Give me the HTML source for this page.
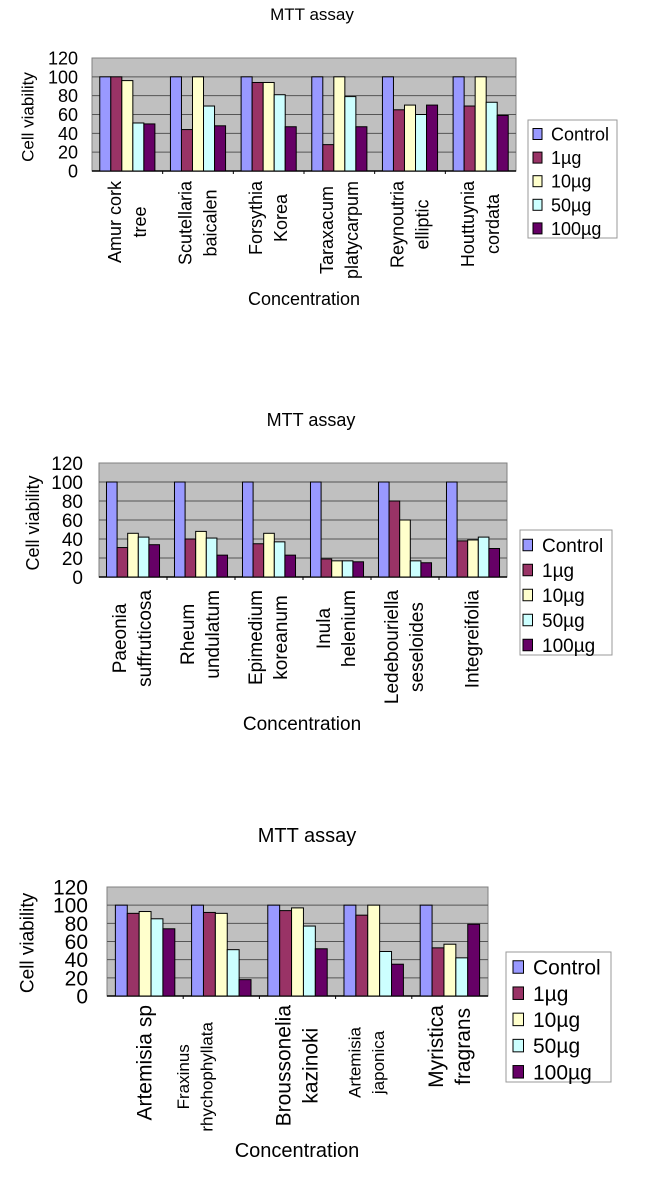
<!DOCTYPE html>
<html><head><meta charset="utf-8"><style>
html,body{margin:0;padding:0;background:#fff;}
svg{display:block;font-family:"Liberation Sans",sans-serif;}
</style></head><body>
<svg id="root" width="650" height="1184" viewBox="0 0 650 1184"></svg>
<script>
// ---------- data ----------
const seriesNames = ["Control","1\u00b5g","10\u00b5g","50\u00b5g","100\u00b5g"];
const yTicks = [0,20,40,60,80,100,120];

const chart1Categories = [["Amur cork","tree"],["Scutellaria","baicalen"],["Forsythia","Korea"],["Taraxacum","platycarpum"],["Reynoutria","elliptic"],["Houttuynia","cordata"]];
const chart1Control = [100,100,100,100,100,100];
const chart1Dose1 = [100,44,94,28,65,69];
const chart1Dose10 = [96,100,94,100,70,100];
const chart1Dose50 = [51,69,81,79,60,73];
const chart1Dose100 = [50,48,47,47,70,59];

const chart2Categories = [["Paeonia","suffruticosa"],["Rheum","undulatum"],["Epimedium","koreanum"],["Inula","helenium"],["Ledebouriella","seseloides"],["Integreifolia"]];
const chart2Control = [100,100,100,100,100,100];
const chart2Dose1 = [31,40,35,19,80,38];
const chart2Dose10 = [46,48,46,17,60,39];
const chart2Dose50 = [42,41,37,17,17,42];
const chart2Dose100 = [34,23,23,16,15,30];

const chart3Categories = [["Artemisia sp"],["Fraxinus","rhychophyllata"],["Broussonelia","kazinoki"],["Artemisia","japonica"],["Myristica","fragrans"]];
const chart3Control = [100,100,100,100,100];
const chart3Dose1 = [91,92,94,89,53];
const chart3Dose10 = [93,91,97,100,57];
const chart3Dose50 = [85,51,77,49,42];
const chart3Dose100 = [74,18,52,35,79];

// ---------- layout ----------
const colors = ["#9999ff","#993366","#ffffcc","#ccffff","#660066"];
const NS = "http://www.w3.org/2000/svg";
const root = document.getElementById('root');
function mk(tag, attrs, parent){const e=document.createElementNS(NS,tag);for(const k in attrs)e.setAttribute(k,attrs[k]);(parent||root).appendChild(e);return e;}

const charts = [
 {id:1, cats:chart1Categories, series:[chart1Control,chart1Dose1,chart1Dose10,chart1Dose50,chart1Dose100],
  x0:92,x1:516,y0:58,y1:171, titleX:312,titleY:20,titleFs:17, tickX:78,tickFs:18,
  yTitleX:28,yTitleY:117,yTitleFs:17, catTop:181,catFs:[18,18,18,18,18,18],catTopAdj:[0,0,0,0,0,0],catDx:[0,0,0,0,0,0],lineGap:25,
  concX:304,concY:305,concFs:18, leg:{x:528,y:120,w:89,h:118,sw:533,tx:551,ty:134,dy:23.6,fs:18}},
 {id:2, cats:chart2Categories, series:[chart2Control,chart2Dose1,chart2Dose10,chart2Dose50,chart2Dose100],
  x0:99,x1:507,y0:463,y1:577, titleX:311,titleY:426,titleFs:18, tickX:83,tickFs:19,
  yTitleX:33,yTitleY:523,yTitleFs:18, catTop:590,catFs:[19,19,19,19,19,19],catTopAdj:[0,0,0,0,0,0],catDx:[0,0,0,0,0,0],lineGap:25,
  concX:302,concY:730,concFs:19, leg:{x:520,y:530,w:92,h:125,sw:523,tx:542,ty:545,dy:25,fs:19}},
 {id:3, cats:chart3Categories, series:[chart3Control,chart3Dose1,chart3Dose10,chart3Dose50,chart3Dose100],
  x0:107,x1:488,y0:887,y1:996, titleX:307,titleY:842,titleFs:20, tickX:88,tickFs:21,
  yTitleX:28,yTitleY:943,yTitleFs:19, catTop:1005,catFs:[21,17,21,17,21],catTopAdj:[0,17,0,22,0],catDx:[0,-26,0,-7,0],lineGap:27,
  concX:297,concY:1157,concFs:20, leg:{x:506,y:952,w:105,h:130,sw:513,tx:533,ty:967,dy:26.2,fs:21}}
];

charts.forEach(c=>{
  const g = mk('g',{});
  
  
  const yMax = yTicks[yTicks.length-1];
  const yS = v => c.y1 - (v/yMax)*(c.y1-c.y0);
  const n = c.cats.length;
  const gw = (c.x1-c.x0)/n;
  const bw = gw*0.78/5;
  const xG = i => c.x0 + i*gw;

  const t = mk('text',{x:c.titleX,y:c.titleY,'text-anchor':'middle','font-size':c.titleFs,fill:'#000'},g);
  t.textContent='MTT assay';
  
  

  const plot = mk('rect',{x:c.x0,y:c.y0,width:c.x1-c.x0,height:c.y1-c.y0,fill:'#c0c0c0',stroke:'#808080','stroke-width':1},g);
  
  

  yTicks.forEach(v=>{
    const y = yS(v);
    if(v>0 && v<yMax){
      const l = mk('line',{x1:c.x0,x2:c.x1,y1:y,y2:y,stroke:'#555','stroke-width':1},g);
      
      
    }
    const tl = mk('text',{x:c.tickX,y:y+c.tickFs*0.36,'text-anchor':'end','font-size':c.tickFs,fill:'#000'},g);
    tl.textContent = v;
    
    
  });
  mk('line',{x1:c.x0,x2:c.x1,y1:c.y1,y2:c.y1,stroke:'#000','stroke-width':1.5},g);
  for(let i=1;i<n;i++){ mk('line',{x1:xG(i),x2:xG(i),y1:c.y1,y2:c.y1+3,stroke:'#000'},g); }

  c.series.forEach((arr,s)=>{
    arr.forEach((v,i)=>{
      const x = xG(i) + (gw-5*bw)/2 + s*bw;
      const r = mk('rect',{x:x,y:yS(v),width:bw,height:c.y1-yS(v),fill:colors[s],stroke:'#000','stroke-width':1},g);
      
      
    });
  });

  const yt = mk('text',{x:c.yTitleX,y:c.yTitleY,'text-anchor':'middle','font-size':c.yTitleFs,transform:`rotate(-90 ${c.yTitleX} ${c.yTitleY})`,'dominant-baseline':'central'},g);
  yt.textContent='Cell viability';
  
  

  c.cats.forEach((lines,i)=>{
    const cx = xG(i)+gw/2 + c.catDx[i];
    const fs = c.catFs[i];
    const gap = fs<18 ? fs*1.4 : c.lineGap;
    const top = c.catTop + c.catTopAdj[i];
    const lg = mk('g',{},g);
    
    
    const texts = lines.map((ln,k)=>{
      const xx = cx - (lines.length-1)*gap/2 + k*gap;
      const te = mk('text',{'font-size':fs,'dominant-baseline':'central','text-anchor':'middle'},lg);
      te.textContent = ln;
      te._x = xx;
      return te;
    });
    const maxLen = Math.max(...texts.map(te=>te.getComputedTextLength()));
    texts.forEach(te=>{
      const yy = top + maxLen/2;
      te.setAttribute('x',te._x);te.setAttribute('y',yy);
      te.setAttribute('transform',`rotate(-90 ${te._x} ${yy})`);
    });
  });

  const ct = mk('text',{x:c.concX,y:c.concY,'text-anchor':'middle','font-size':c.concFs},g);
  ct.textContent='Concentration';
  
  

  const L = c.leg;
  const lgd = mk('g',{},g);
  
  
  mk('rect',{x:L.x,y:L.y,width:L.w,height:L.h,fill:'#fff',stroke:'#999','stroke-width':1},lgd);
  seriesNames.forEach((nm,s)=>{
    const yy = L.ty + s*L.dy;
    const ent = mk('g',{},lgd);
    
    
    const sz = L.fs*0.5;
    mk('rect',{x:L.sw,y:yy-sz/2-1,width:sz,height:sz+2,fill:colors[s],stroke:'#000','stroke-width':1},ent);
    const tx = mk('text',{x:L.tx,y:yy+L.fs*0.36,'font-size':L.fs},ent);
    tx.textContent = nm;
  });
});
</script>
</body></html>
